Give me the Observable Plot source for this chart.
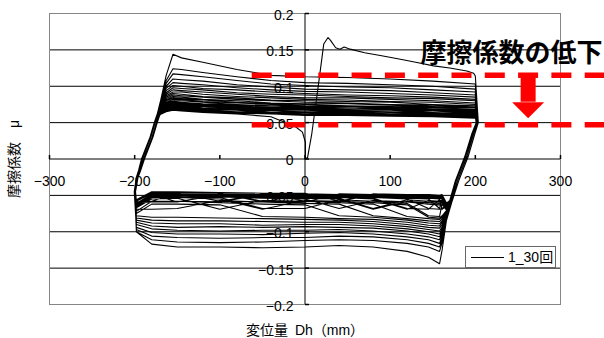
<!DOCTYPE html>
<html><head><meta charset="utf-8">
<script src="https://cdn.jsdelivr.net/npm/d3@7"></script>
<script src="https://cdn.jsdelivr.net/npm/@observablehq/plot@0.6"></script>
<style>
body{margin:0;background:#fff;}
#wrap{position:relative;width:604px;height:338px;overflow:hidden;}
#legend{position:absolute;left:465px;top:246px;width:89px;height:20px;border:1px solid #666;background:#fff;
 font-family:'Liberation Sans','Noto Sans CJK JP',sans-serif;font-size:14px;line-height:20px;}
#legend .ln{position:absolute;left:5px;top:10px;width:33px;border-top:1px solid #000;}
#legend .tx{position:absolute;left:42px;top:0px;}
</style>
</head><body><div id="wrap"><div id="legend"><div class="ln"></div><div class="tx">1_30回</div></div></div>
<script>
// ---- data (friction coefficient in thousandths) ----
const seriesName = "1_30回";
const xTickVals = [-300,-200,-100,0,100,200,300];
const xTickLabels = ["−300","−200","−100","0","100","200","300"];
const yTickVals = [0.2,0.15,0.1,0.05,0,-0.05,-0.1,-0.15,-0.2];
const yTickLabels = ["0.2","0.15","0.1","0.05","0","−0.05","−0.1","−0.15","−0.2"];
const gridY = [0.15,0.1,0.05,-0.05,-0.1,-0.15];

// first loading from origin (cycle 1, 0 -> +200)
const initX  = [0,3,8,15,22,27,30,36,41,46,53,70,90,112,130,151,170,190,198,200];
const initMu = [0,2,35,95,158,167,163,153,151,154,151,146,142,137,133,128,125,121,118,114];

// reversal at +200 (stiff branch, four slightly different traces)
const fallXs = [
 [203.5,199.5,191.5,180.5,173],
 [202.5,198,190,179,172],
 [201.5,197,188.5,177.5,171],
 [201,196,187.5,176.5,170]
];
const fallMu = [50,35,3,-30,-57];
// reversal at -200 (stiff branch, four slightly different traces)
const riseXs = [
 [-200.5,-198,-195.5,-192,-182,-177],
 [-200,-197.5,-195,-191,-181,-176],
 [-199.5,-196.5,-194,-189.5,-179.5,-174.5],
 [-199,-196,-193,-188.5,-178.5,-173.5]
];
const riseMu = [-45,-25,-16,0,30,50];

// sliding to the left (negative friction), cycles 1..30
const botX = [166,161,158,145,120,80,40,0,-50,-100,-150,-180,-198];
const botRows = [
 [-85,-125,-144,-135,-127,-121,-119,-121,-122,-121,-121,-117,-100],
 [-83,-115,-127,-121,-116,-112,-111,-112,-114,-115,-114,-111,-100],
 [-82,-110,-121,-116,-111,-107,-106,-108,-108,-109,-108,-106,-97],
 [-81,-106,-116,-111,-107,-103,-101,-102,-104,-103,-103,-101,-94],
 [-80,-102,-111,-107,-103,-099,-097,-098,-098,-099,-098,-096,-90],
 [-79,-099,-107,-103,-099,-095,-094,-093,-094,-093,-094,-092,-87],
 [-78,-096,-103,-100,-096,-092,-090,-090,-091,-089,-089,-088,-84],
 [-77,-093,-099,-097,-093,-089,-087,-087,-086,-085,-085,-084,-81],
 [-76,-090,-095,-094,-090,-086,-084,-083,-082,-081,-080,-080,-78],
 [-75,-087,-092,-091,-087,-083,-082,-080,-079,-077,-076,-076,-75],
 [-74,-085,-089,-088,-084,-080,-078,-077,-076,-074,-072,-072,-72],
 [-73,-082,-086,-085,-082,-078,-076,-075,-073,-071,-068,-069,-69],
 [-72,-080,-083,-082,-079,-076,-074,-072,-071,-069,-066,-067,-67],
 [-71,-078,-081,-080,-077,-074,-072,-071,-069,-067,-065,-065,-66],
 [-70,-076,-079,-078,-075,-072,-070,-068,-068,-065,-064,-064,-65],
 [-69,-074,-077,-076,-073,-071,-068,-067,-066,-064,-062,-063,-64],
 [-68,-073,-075,-074,-072,-069,-067,-066,-065,-063,-061,-062,-63],
 [-67,-071,-073,-072,-070,-068,-066,-065,-064,-062,-061,-061,-62],
 [-66,-070,-072,-071,-069,-067,-065,-064,-063,-061,-060,-060,-61],
 [-65,-069,-070,-069,-068,-066,-064,-063,-062,-061,-059,-060,-61],
 [-64,-068,-069,-068,-067,-065,-063,-062,-061,-060,-059,-059,-60],
 [-64,-067,-068,-067,-066,-064,-062,-061,-061,-059,-058,-059,-60],
 [-63,-066,-067,-066,-065,-063,-062,-061,-060,-059,-058,-058,-59],
 [-63,-065,-066,-065,-064,-062,-061,-060,-060,-058,-057,-058,-59],
 [-62,-064,-065,-064,-064,-062,-061,-060,-059,-058,-057,-057,-58],
 [-62,-063,-064,-064,-063,-061,-060,-059,-059,-057,-056,-057,-58],
 [-61,-062,-063,-063,-062,-061,-060,-059,-058,-057,-056,-056,-57],
 [-61,-062,-063,-062,-062,-060,-059,-058,-058,-057,-056,-056,-57],
 [-60,-061,-062,-062,-061,-060,-059,-058,-057,-056,-055,-056,-57],
 [-60,-061,-062,-061,-061,-060,-058,-057,-057,-056,-055,-055,-56]
];

// sliding to the right (positive friction), cycles 2..30
const topX = [-170,-163,-155,-145,-120,-80,-40,0,50,100,150,200];
const topRows = [
 [78,115,144,139,133,123,115,113,112,110,107,103],
 [76,108,124,123,119,113,108,105,104,102,100,96],
 [75,104,117,116,113,108,103,101,99,98,95,92],
 [74,100,110,109,107,102,99,96,95,94,91,88],
 [73,97,105,104,102,98,95,93,92,90,88,85],
 [72,94,101,100,97,95,92,90,88,87,85,82],
 [71,91,98,97,95,91,89,88,86,84,83,80],
 [70,89,95,94,92,89,86,84,84,82,80,77],
 [70,87,92,92,89,86,84,82,81,79,78,75],
 [69,85,90,89,86,84,81,80,79,78,75,73],
 [68,83,88,87,85,82,80,78,77,75,74,71],
 [68,81,86,85,82,80,77,76,76,74,72,70],
 [67,80,84,83,81,78,76,75,73,72,71,68],
 [67,78,82,82,79,77,75,73,72,71,69,67],
 [66,77,80,80,78,75,73,72,72,70,68,66],
 [66,76,79,78,76,74,73,71,70,69,67,65],
 [65,75,78,77,75,73,71,70,70,68,66,64],
 [65,74,77,76,74,72,70,69,68,67,66,63],
 [64,73,76,75,73,71,69,68,67,67,64,62],
 [64,72,75,74,72,70,68,67,66,65,64,62],
 [64,71,74,73,72,69,67,67,65,64,63,61],
 [63,70,73,72,70,68,66,65,65,64,62,60],
 [63,69,72,71,69,67,66,64,64,62,61,60],
 [63,69,71,70,68,67,64,64,63,62,61,59],
 [62,68,70,69,67,65,64,63,62,61,60,58],
 [62,67,69,68,67,65,63,63,61,61,59,58],
 [62,67,68,68,66,64,63,61,61,60,59,57],
 [61,66,68,67,66,64,62,61,60,59,58,57],
 [61,66,67,66,65,63,62,60,60,59,58,56]
];
// last half cycle, -200 -> 0 (end of test)
const finalX  = [-170,-163,-155,-145,-120,-80,-40,-29,-13,-3,0.5,0.5];
const finalMu = [61,65,67,66,64,62,58,53,46,37,23,0];

// annotation
const dashLevels = [0.115, 0.047];
const dashFromX = -62;
const dashToX = 360;
const arrowX = 262, arrowTop = 0.115, arrowHeadY = 0.078;
const annotText = "摩擦係数の低下";
const annotX = 135.6, annotY = 0.145;
const xTitle = "変位量\u2002Dh（mm）";
const yTitle = "摩擦係数　μ";

// ---- assemble path ----
const points = [];
const push = (xs, ms) => xs.forEach((x, i) => points.push({x, mu: ms[i] / 1000}));
push(initX, initMu);
for (let k = 0; k < botRows.length; k++) {
  push(fallXs[k % fallXs.length], fallMu);
  push(botX, botRows[k]);
  push(riseXs[(k + 1) % riseXs.length], riseMu);
  if (k < topRows.length) push(topX, topRows[k]);
  else push(finalX, finalMu);
}

const tickUp = {draw(ctx){ctx.moveTo(0,0);ctx.lineTo(0,-4);}};
const tickRight = {draw(ctx){ctx.moveTo(0,0);ctx.lineTo(4,0);}};
const headDown = {draw(ctx){ctx.moveTo(-16,0);ctx.lineTo(16,0);ctx.lineTo(0,16);ctx.closePath();}};
const RED = "#ff0000";
const FONT = "'Liberation Sans','Noto Sans CJK JP',sans-serif";

const chart = Plot.plot({
  width: 604, height: 338,
  marginLeft: 49, marginRight: 44, marginTop: 13, marginBottom: 34,
  style: {fontFamily: FONT, background: "white", color: "black", overflow: "visible"},
  x: {domain: [-300, 300], axis: null},
  y: {domain: [-0.2, 0.2], axis: null},
  marks: [
    Plot.ruleY(gridY, {stroke: "#000", strokeWidth: 1}),
    Plot.frame({stroke: "#868686"}),
    Plot.line(points, {x: "x", y: "mu", stroke: "#000", strokeWidth: 1.1}),
    Plot.ruleY([0], {stroke: "#000"}),
    Plot.ruleX([0], {stroke: "#000"}),
    Plot.dot(xTickVals, {x: d => d, y: 0, symbol: tickUp, stroke: "#000", fill: "none"}),
    Plot.dot(yTickVals, {x: 0, y: d => d, symbol: tickRight, stroke: "#000", fill: "none"}),
    Plot.text(xTickVals, {x: d => d, y: 0, text: (d, i) => xTickLabels[i], dy: 22.5, fontSize: 14, fill: "#000"}),
    Plot.text(yTickVals, {x: 0, y: d => d, text: (d, i) => yTickLabels[i], textAnchor: "end", dx: -11.5, dy: 2, fontSize: 14, fill: "#000"}),
    Plot.ruleY(dashLevels, {x1: dashFromX, x2: dashToX, stroke: RED, strokeWidth: 5.5, strokeDasharray: "20,13.3"}),
    Plot.ruleX([arrowX], {y1: arrowTop, y2: arrowHeadY, stroke: RED, strokeWidth: 15}),
    Plot.dot([arrowX], {x: d => d, y: arrowHeadY, symbol: headDown, fill: RED, stroke: "none"}),
    Plot.text([annotText], {x: annotX, y: annotY, text: d => d, textAnchor: "start", fontSize: 26, fontWeight: "bold", fontFamily: "'Noto Sans CJK JP',sans-serif", fill: "#000"}),
    Plot.text([xTitle], {frameAnchor: "bottom", text: d => d, textAnchor: "middle", lineAnchor: "middle", dy: 26, fontSize: 14, fill: "#000"}),
    Plot.text([yTitle], {frameAnchor: "left", text: d => d, textAnchor: "middle", lineAnchor: "middle", dx: -35, rotate: -90, fontSize: 14, fill: "#000"})
  ]
});
document.getElementById("wrap").insertBefore(chart, document.getElementById("legend"));
</script>
</body></html>
